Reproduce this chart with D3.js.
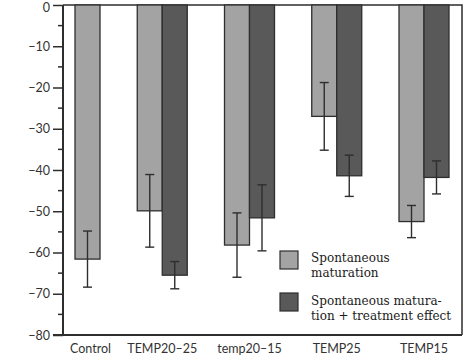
<!DOCTYPE html>
<html><head><meta charset="utf-8">
<script src="https://cdn.jsdelivr.net/npm/d3@7"></script>
<style>body{margin:0;background:#fff}svg{display:block}</style>
</head><body>
<svg id="c" width="472" height="360"></svg>
<script>
const categories = ["Control","TEMP20–25","temp20–15","TEMP25","TEMP15"];
const spontaneous = [-61.6, -49.9, -58.2, -27.0, -52.5];
const spontaneousErr = [6.8, 8.8, 7.8, 8.2, 3.9];
const treatment = [null, -65.5, -51.6, -41.4, -41.8];
const treatmentErr = [null, 3.3, 8.0, 5.0, 4.0];
const yTicks = [0,-10,-20,-30,-40,-50,-60,-70,-80];
const legendLabels = [["Spontaneous","maturation"],["Spontaneous matura-","tion + treatment effect"]];

const svg = d3.select("#c");
const L=63, R=462, T=5, B=335;
const y = d3.scaleLinear().domain([0,-80]).range([T,B]);
const x = d3.scalePoint().domain(categories).range([75,424]);
const bw = 25;
const ink = "#2e2e2e", light="#a3a3a3", dark="#595959";

// frame
svg.append("path").attr("d",`M${L},${T}H${R}V${B}`).attr("fill","none").attr("stroke",ink).attr("stroke-width",1.5);

// axis
const yAxis = d3.axisLeft(y).tickValues(yTicks).tickSize(10).tickPadding(3).tickFormat(d3.format("d"));
const ga = svg.append("g").attr("transform",`translate(${L},0)`).call(yAxis);
ga.select(".domain").remove();
ga.selectAll("line").attr("stroke",ink).attr("stroke-width",1.5);
ga.selectAll("text").attr("fill","#333").style("font-family","Lato").style("font-size","12.5px");
ga.selectAll("text").filter(d=>d===0).attr("dy","0.5em");
// minor ticks
const minor = d3.range(-5,-80,-10);
svg.append("g").selectAll("line").data(minor).join("line")
  .attr("x1",L-5).attr("x2",L).attr("y1",d=>y(d)).attr("y2",d=>y(d)).attr("stroke",ink).attr("stroke-width",1.5);
svg.append("line").attr("x1",L).attr("x2",L).attr("y1",T).attr("y2",B).attr("stroke",ink).attr("stroke-width",2);
svg.append("line").attr("x1",L-10).attr("x2",R).attr("y1",B).attr("y2",B).attr("stroke",ink).attr("stroke-width",2);

// bars
const rows = categories.map((c,i)=>({c,i,s:spontaneous[i],se:spontaneousErr[i],t:treatment[i],te:treatmentErr[i]}));
function lightX(d){ return d.t==null ? x(d.c) : x(d.c)-bw; }
const gb = svg.append("g");
rows.forEach(d=>{
  const lx = lightX(d);
  gb.append("rect").attr("x",lx).attr("y",y(0)).attr("width",bw).attr("height",y(d.s)-y(0))
    .attr("fill",light).attr("stroke",ink).attr("stroke-width",1.3);
  if(d.t!=null){
    gb.append("rect").attr("x",x(d.c)).attr("y",y(0)).attr("width",bw).attr("height",y(d.t)-y(0))
      .attr("fill",dark).attr("stroke",ink).attr("stroke-width",1.3);
  }
});
function err(cx,v,e){
  const g = svg.append("g").attr("stroke",ink).attr("stroke-width",1.4);
  g.append("line").attr("x1",cx).attr("x2",cx).attr("y1",y(v+e)).attr("y2",y(v-e));
  g.append("line").attr("x1",cx-4.5).attr("x2",cx+4.5).attr("y1",y(v+e)).attr("y2",y(v+e));
  g.append("line").attr("x1",cx-4.5).attr("x2",cx+4.5).attr("y1",y(v-e)).attr("y2",y(v-e));
}
rows.forEach(d=>{
  err(lightX(d)+bw/2,d.s,d.se);
  if(d.t!=null) err(x(d.c)+bw/2,d.t,d.te);
});

// x labels
svg.append("g").selectAll("text").data(rows).join("text")
  .attr("x",d=>d.t==null? x(d.c)+bw/2+3 : x(d.c)).attr("y",353)
  .attr("text-anchor","middle").attr("fill","#333")
  .style("font-family","Lato").style("font-size","12.5px").text(d=>d.c);

// legend
const lg = svg.append("g");
[[light,251],[dark,293]].forEach(([col,yy],i)=>{
  lg.append("rect").attr("x",280).attr("y",yy).attr("width",18).attr("height",18)
    .attr("fill",col).attr("stroke",ink).attr("stroke-width",1.2);
  legendLabels[i].forEach((t,j)=>{
    lg.append("text").attr("x",311).attr("y",(i?305:262)+j*14.5).attr("fill","#1a1a1a")
      .style("font-family","DejaVu Serif").style("font-size","12px").text(t);
  });
});
</script>
</body></html>
